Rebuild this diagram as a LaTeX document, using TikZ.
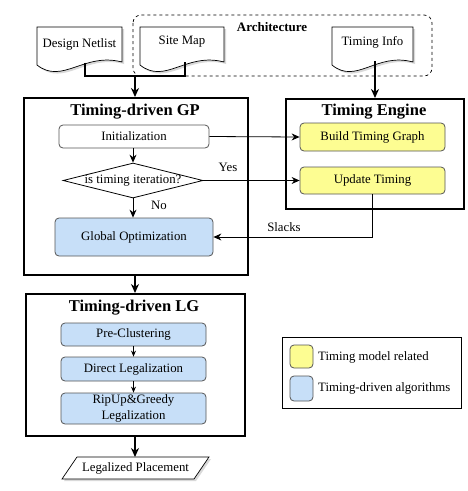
\documentclass[tikz,border=0pt]{standalone}
\usepackage{fontspec}
\setmainfont{Liberation Serif}
\usetikzlibrary{arrows.meta,shapes.geometric,calc}
\definecolor{tyellow}{HTML}{FDFD92}
\definecolor{tblue}{HTML}{C7DFF8}
\definecolor{bord}{HTML}{555555}
\tikzset{
  every node/.style={font=\fontsize{12.8}{14}\selectfont, inner sep=0pt},
  bigbox/.style={draw=black, line width=1.8pt},
  title/.style={font=\fontsize{16.5}{18}\selectfont\bfseries},
  ibox/.style={draw=bord, line width=0.8pt, rounded corners=4pt},
  ybox/.style={ibox, fill=tyellow},
  bbox/.style={ibox, fill=tblue},
  thickarr/.style={line width=1.6pt, -{Stealth[length=9pt,width=8pt]}},
  thinarr/.style={line width=0.8pt, -{Stealth[length=8pt,width=7pt]}},
  smallarr/.style={line width=0.8pt, -{Stealth[length=6pt,width=5pt]}},
  docline/.style={draw=black, line width=0.7pt},
}
\newcommand{\docpath}[3]{% x0, y0, w
  \fill[gray!30] (#1+2,#2+2) -- (#1+#3+2,#2+2) -- (#1+#3+2,#2+37)
     .. controls (#1+0.55*#3+2,#2+27) and (#1+0.3*#3+2,#2+60) .. (#1+2,#2+40) -- cycle;
  \filldraw[docline, fill=white] (#1,#2) -- (#1+#3,#2) -- (#1+#3,#2+35)
     .. controls (#1+0.55*#3,#2+25) and (#1+0.3*#3,#2+58) .. (#1,#2+38) -- cycle;
}
\begin{document}
\begin{tikzpicture}[x=1pt,y=-1pt]
\useasboundingbox (0,0) rectangle (468,491);
% Architecture box
\draw[dashed, line width=0.7pt, rounded corners=8pt] (133,15) rectangle (432,76);
\node[font=\fontsize{13}{15}\selectfont\bfseries] (arch) at (272,27) {Architecture};
% documents
\docpath{37}{27}{85}
\node (dn) at (79.5,44) {Design Netlist};
\docpath{140}{27}{84}
\node (sm) at (182,42) {Site Map};
\docpath{332}{27}{81}
\node (ti) at (372.5,42) {Timing Info};
\coordinate (dnb) at (85,62.5);
\coordinate (smb) at (185,61.5);
\coordinate (tib) at (375,61);
\coordinate (join) at (135,76);
% big boxes
\node[bigbox, minimum width=224, minimum height=177, anchor=north west] (gp) at (23,97) {};
\node[title] (gpt) at (135,112) {Timing-driven GP};
\node[bigbox, minimum width=178, minimum height=110, anchor=north west] (te) at (285,98) {};
\node[title] (tet) at (374,112) {Timing Engine};
\node[bigbox, minimum width=219, minimum height=142, anchor=north west] (lg) at (25,293) {};
\node[title] (lgt) at (134,308) {Timing-driven LG};
% connectors from docs
\draw[line width=1.6pt] (dnb) |- (join) -| (smb);
\draw[thickarr] (join) -- (gp.north -| join);
\draw[thickarr] (tib) -- (te.north -| tib);
% GP content
\node[ibox, fill=white, minimum width=150, minimum height=23] (init) at (134,136.5) {Initialization};
\node[ybox, minimum width=145, minimum height=28] (btg) at (372.5,137) {Build Timing Graph};
\node[diamond, draw=black, line width=0.8pt, minimum width=140, minimum height=35] (dec) at (133,180.5) {};
\node (dect) at (133,180.5) {is timing iteration?};
\node[ybox, minimum width=145, minimum height=27] (ut) at (372.5,180.5) {Update Timing};
\node[bbox, minimum width=158, minimum height=38] (go) at (134,237) {Global Optimization};
\draw[thinarr] (init.east) -- (btg.west);
\draw[thinarr] (init.south -| dec.north) -- (dec.north);
\draw[thinarr] (dec.east) -- (ut.west);
\draw[thinarr] (dec.south) -- (go.north -| dec.south);
\node (yes) at (228,167) {Yes};
\node (no) at (159,205) {No};
\coordinate (sl) at (372,237);
\draw[thinarr] (ut.south -| sl) -- (sl) -- (go.east);
\node (slacks) at (284,227) {Slacks};
% GP -> LG
\draw[thickarr] (gp.south -| 135,0) -- (lg.north -| 135,0);
% LG content
\node[bbox, minimum width=145, minimum height=23] (pc) at (133.5,334.5) {Pre-Clustering};
\node[bbox, minimum width=145, minimum height=24] (dl) at (133.5,369) {Direct Legalization};
\node[bbox, minimum width=145, minimum height=31, align=center, font=\fontsize{12.8}{15.5}\selectfont] (rg) at (133.5,408.5) {RipUp\&Greedy\\Legalization};
\draw[smallarr] (pc.south) -- (dl.north);
\draw[smallarr] (dl.south) -- (rg.north);
% output
\fill[gray!30] (79,459) -- (211,459) -- (196,481) -- (64,481) -- cycle;
\filldraw[draw=black, line width=0.7pt, fill=white] (77,457) -- (209,457) -- (194,479) -- (62,479) -- cycle;
\node (lp) at (135.5,468) {Legalized Placement};
\coordinate (lptop) at (135,457);
\draw[thickarr] (lg.south -| lptop) -- (lptop);
% legend
\node[draw=black, line width=0.8pt, minimum width=179, minimum height=71, anchor=north west] (leg) at (282,337) {};
\node[ybox, minimum width=23, minimum height=23] (ly) at (301.5,356.5) {};
\node[anchor=west] (lyt) at (318,357) {Timing model related};
\node[bbox, minimum width=23, minimum height=25] (lb) at (301.5,388.5) {};
\node[anchor=west] (lbt) at (318,388) {Timing-driven algorithms};
\end{tikzpicture}
\end{document}
